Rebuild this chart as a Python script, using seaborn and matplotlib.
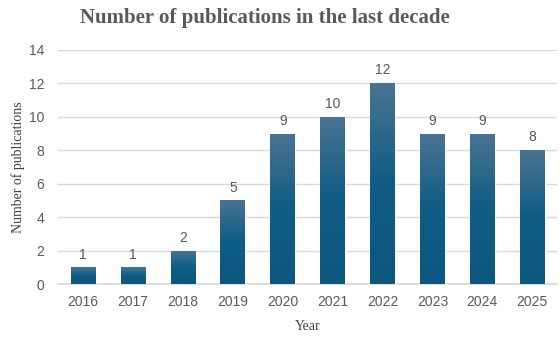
import matplotlib
matplotlib.use("Agg")
import matplotlib.pyplot as plt
import seaborn as sns
import numpy as np
import pandas as pd
from matplotlib.colors import LinearSegmentedColormap

years = ["2016", "2017", "2018", "2019", "2020", "2021", "2022", "2023", "2024", "2025"]
counts = [1, 1, 2, 5, 9, 10, 12, 9, 9, 8]
yticks = [0, 2, 4, 6, 8, 10, 12, 14]

df = pd.DataFrame({"Year": years, "Count": counts})

sns.set_theme(style="white")
plt.rcParams["font.family"] = ["Liberation Sans", "DejaVu Sans"]

fig = plt.figure(figsize=(5.6, 3.37), dpi=100)
ax = fig.add_axes([0.104, 0.157, 0.891, 0.695])

sns.barplot(data=df, x="Year", y="Count", color="#175f86", width=0.5, ax=ax, zorder=3)

cmap = LinearSegmentedColormap.from_list("g", ["#0b5780", "#0f5c84", "#4a7493"])
grad = np.linspace(0, 1, 256).reshape(-1, 1)
for p in ax.patches:
    x0, y0 = p.get_x(), p.get_y()
    w, h = p.get_width(), p.get_height()
    im = ax.imshow(grad, cmap=cmap, aspect="auto", origin="lower",
                   extent=[x0, x0 + w, y0, y0 + h], zorder=4)
    im.set_clip_path(p)
    ax.text(x0 + w / 2, h + 0.35, str(int(h)), ha="center", va="bottom",
            fontsize=10, color="#595959", zorder=5)

ax.set_xlim(-0.5, len(years) - 0.5)
ax.set_ylim(0, 14)
ax.set_yticks(yticks)
ax.yaxis.grid(True, color="#d9d9d9", linewidth=1, zorder=0)
ax.set_axisbelow(True)
for s in ["top", "right", "left"]:
    ax.spines[s].set_visible(False)
ax.spines["bottom"].set_color("#d9d9d9")
ax.tick_params(axis="both", colors="#595959", labelsize=10, length=0, pad=8)
ax.tick_params(axis="y", pad=10)

ax.set_xlabel("Year", family="Liberation Serif", fontsize=10, color="#404040", labelpad=8)
ax.set_ylabel("Number of publications", family="Liberation Serif", fontsize=10,
              color="#404040", labelpad=3)
fig.suptitle("Number of publications in the last decade", family="Liberation Serif",
             fontweight="bold", fontsize=15, color="#595959", x=0.473, y=0.975)

fig.savefig("out.png", dpi=100, facecolor="white")
